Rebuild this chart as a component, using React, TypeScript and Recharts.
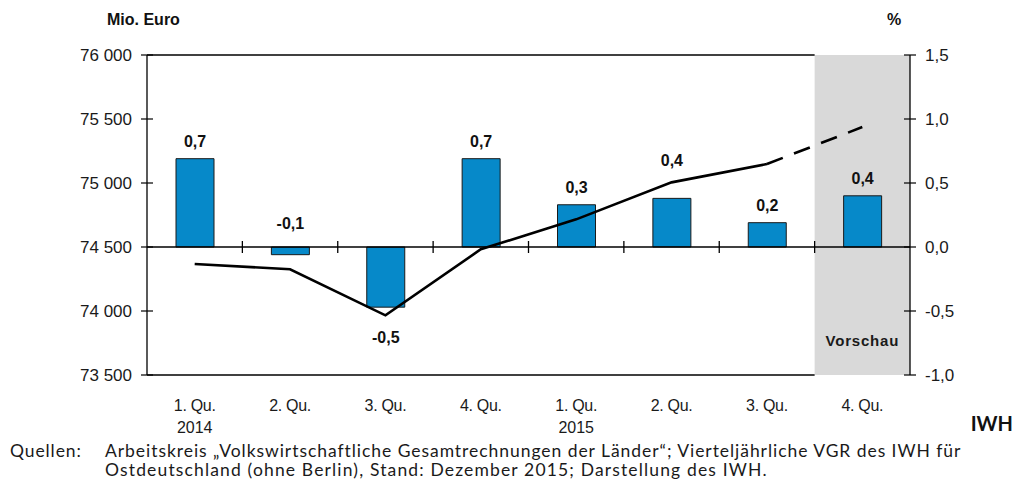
import { Bar, ComposedChart, LabelList, Line, ReferenceArea, ReferenceLine, XAxis, YAxis } from "recharts"

// quarters 2014–2015, last one is the IWH forecast ("Vorschau")
const QUARTERS = ["1. Qu.", "2. Qu.", "3. Qu.", "4. Qu.", "1. Qu.", "2. Qu.", "3. Qu.", "4. Qu."]
const YEARS = ["2014", "", "", "", "2015", "", "", ""]
const KEYS = QUARTERS.map((q, i) => `${q} ${i}`)

// change vs. previous quarter, % (right axis)
const GROWTH = [0.69, -0.06, -0.47, 0.69, 0.33, 0.38, 0.19, 0.4]
const GROWTH_LABELS = ["0,7", "-0,1", "-0,5", "0,7", "0,3", "0,4", "0,2", "0,4"]

// GDP level, Mio. Euro (left axis)
const GDP = [74367, 74326, 73966, 74482, 74716, 75005, 75148, null]
const GDP_FORECAST = [null, null, null, null, null, null, 75148, 75437]

const EUR_TICKS = [73500, 74000, 74500, 75000, 75500, 76000]
const PCT_TICKS = [-1, -0.5, 0, 0.5, 1, 1.5]

const data = KEYS.map((k, i) => ({
  key: k,
  growth: GROWTH[i],
  label: GROWTH_LABELS[i],
  gdp: GDP[i],
  gdpForecast: GDP_FORECAST[i],
}))

const AXIS_FONT = "'Liberation Sans', Arial, sans-serif"
const NOTE_FONT = "Lato, 'Open Sans', sans-serif"
const BLUE = "#0689c9"

const fmtEur = (v: number) => String(v).replace(/\B(?=(\d{3})+(?!\d))/g, " ")
const fmtPct = (v: number) => v.toFixed(1).replace(".", ",")

function EurTick({ x, y, payload }: any) {
  return (
    <g>
      <line x1={x - 6} x2={x + 6} y1={y} y2={y} stroke="#000" strokeWidth={1.2} />
      <text x={x - 15} y={y + 6} textAnchor="end" fontSize={17} fontFamily={AXIS_FONT} fill="#1a1a1a">
        {fmtEur(payload.value)}
      </text>
    </g>
  )
}

function PctTick({ x, y, payload }: any) {
  return (
    <g>
      <line x1={x - 6} x2={x + 6} y1={y} y2={y} stroke="#000" strokeWidth={1.2} />
      <text x={x + 15} y={y + 6} textAnchor="start" fontSize={17} fontFamily={AXIS_FONT} fill="#1a1a1a">
        {fmtPct(payload.value)}
      </text>
    </g>
  )
}

function QuarterTick({ x, y, payload }: any) {
  const i = KEYS.indexOf(payload.value)
  return (
    <g fontFamily={AXIS_FONT} fontSize={16} fill="#1a1a1a" textAnchor="middle">
      <text x={x} y={y + 36} letterSpacing={-0.3}>{QUARTERS[i]}</text>
      {YEARS[i] && <text x={x} y={y + 58}>{YEARS[i]}</text>}
    </g>
  )
}

// value labels: above positive bars, below negative ones; tiny negatives sit above the zero line
function GrowthLabel(props: any) {
  const vb = props.viewBox ?? props
  const { x, y, width, height } = { ...vb, ...props }
  const i = props.index
  const v = GROWTH[i]
  const top = Math.min(y, y + height)
  const bottom = Math.max(y, y + height)
  let ty: number
  if (v >= 0) ty = top - 12 - (i === 5 ? 20 : 0) // lifted clear of the line
  else if (v > -0.1) ty = top - 18
  else ty = bottom + 36
  return (
    <text x={x + width / 2} y={ty} textAnchor="middle" fontSize={16} fontWeight="bold" fontFamily={AXIS_FONT} fill="#111">
      {GROWTH_LABELS[i]}
    </text>
  )
}

// zero line of the % axis with category separators
function ZeroLine(p: any) {
  const step = (p.x2 - p.x1) / KEYS.length
  return (
    <g stroke="#000" strokeWidth={1.3}>
      <line x1={p.x1} x2={p.x2} y1={p.y1} y2={p.y1} />
      {KEYS.slice(1).map((_, i) => (
        <line key={i} x1={p.x1 + step * (i + 1)} x2={p.x1 + step * (i + 1)} y1={p.y1 - 6} y2={p.y1 + 6} />
      ))}
    </g>
  )
}

// frame lines stop where the forecast band starts
function FrameLine(p: any) {
  const step = (p.x2 - p.x1) / KEYS.length
  return <line x1={p.x1} x2={p.x2 - step} y1={p.y1} y2={p.y1} stroke="#000" strokeWidth={1.3} />
}

export default function App() {
  return (
    <div style={{ position: "absolute", left: 0, top: 0, width: 1018, height: 489, background: "#fff" }}>
      <ComposedChart width={1018} height={489} data={data} margin={{ top: 55, right: 0, bottom: 54, left: 0 }}>
        <ReferenceArea
          x1={KEYS[7]} x2={KEYS[7]} yAxisId="pct" y1={-1} y2={1.5}
          fill="#d9d9d9" fillOpacity={1} stroke="none"
          label={{ value: "Vorschau", position: "insideBottom", offset: 29, fontSize: 15, fontWeight: "bold", fontFamily: AXIS_FONT, fill: "#1a1a1a", letterSpacing: 0.8 }}
        />
        <XAxis dataKey="key" interval={0} tickSize={0} tickMargin={0} tickLine={false} axisLine={false} height={60} tick={<QuarterTick />} />
        <YAxis
          yAxisId="eur" orientation="left" domain={[73500, 76000]} ticks={EUR_TICKS} width={147}
          tickSize={0} tickMargin={0} tickLine={false} axisLine={{ stroke: "#000", strokeWidth: 1.3 }}
          tick={<EurTick />} allowDataOverflow
        />
        <YAxis
          yAxisId="pct" orientation="right" domain={[-1, 1.5]} ticks={PCT_TICKS} width={108}
          tickSize={0} tickMargin={0} tickLine={false} axisLine={{ stroke: "#000", strokeWidth: 1.3 }}
          tick={<PctTick />} allowDataOverflow
        />
        <ReferenceLine yAxisId="eur" y={76000} shape={<FrameLine />} />
        <ReferenceLine yAxisId="eur" y={73500} shape={<FrameLine />} />
        <Bar yAxisId="pct" dataKey="growth" fill={BLUE} stroke="#1a1a1a" strokeWidth={1} barSize={38} isAnimationActive={false}>
          <LabelList dataKey="label" content={<GrowthLabel />} />
        </Bar>
        <ReferenceLine yAxisId="pct" y={0} shape={<ZeroLine />} />
        <Line yAxisId="eur" dataKey="gdp" stroke="#000" strokeWidth={2.6} dot={false} activeDot={false} isAnimationActive={false} />
        <Line yAxisId="eur" dataKey="gdpForecast" stroke="#000" strokeWidth={2.6} strokeDasharray="17 12" dot={false} activeDot={false} isAnimationActive={false} />
      </ComposedChart>
      <svg width={1018} height={489} style={{ position: "absolute", left: 0, top: 0, pointerEvents: "none" }}>
        <text x={107} y={25} fontFamily={AXIS_FONT} fontWeight="bold" fontSize={16} fill="#111">Mio. Euro</text>
        <text x={887} y={25} fontFamily={AXIS_FONT} fontWeight="bold" fontSize={16} fill="#111">%</text>
        <text x={1013} y={431} textAnchor="end" fontFamily={NOTE_FONT} fontWeight="bold" fontSize={20} fill="#111">IWH</text>
        <g fontFamily={NOTE_FONT} fontSize={17.5} fill="#1a1a1a">
          <text x={10} y={457} letterSpacing={0.9}>Quellen:</text>
          <text x={105} y={457} letterSpacing={0.95}>Arbeitskreis „Volkswirtschaftliche Gesamtrechnungen der Länder“; Vierteljährliche VGR des IWH für</text>
          <text x={105} y={476} letterSpacing={1.15}>Ostdeutschland (ohne Berlin), Stand: Dezember 2015; Darstellung des IWH.</text>
        </g>
      </svg>
    </div>
  )
}
